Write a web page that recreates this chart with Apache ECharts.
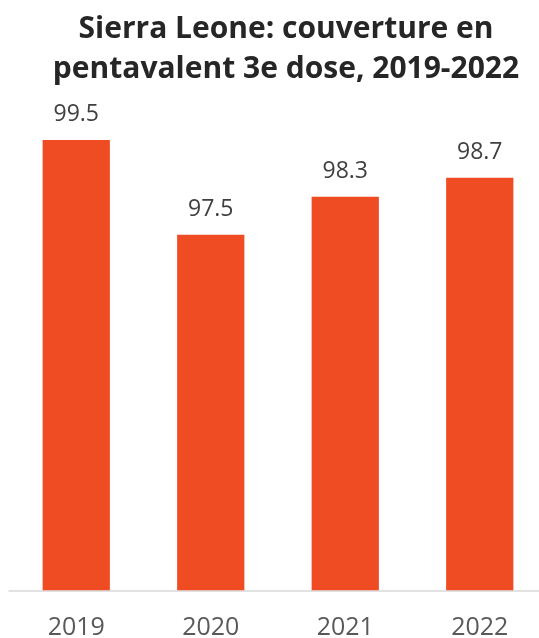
<!DOCTYPE html>
<html><head><meta charset="utf-8">
<script src="https://cdn.jsdelivr.net/npm/echarts@6/dist/echarts.min.js"></script>
<style>html,body{margin:0;padding:0;background:#fff}#c{width:539px;height:638px}</style>
</head><body><div id="c"></div>
<script>
const categories = ['2019', '2020', '2021', '2022'];
const coverage = [99.5, 97.5, 98.3, 98.7];
const titleText = 'Sierra Leone: couverture en\npentavalent 3e dose, 2019-2022';

const chart = echarts.init(document.getElementById('c'), null, {renderer: 'canvas'});
chart.setOption({
  animation: false,
  title: {
    text: titleText,
    left: 281,
    textAlign: 'center',
    top: 4,
    textStyle: {fontFamily: 'Open Sans', fontWeight: 'bold', fontSize: 30, lineHeight: 40, color: '#262626'}
  },
  grid: {left: 9, right: -8, top: 116.25, bottom: 47.75, containLabel: false, outerBoundsMode: 'none'},
  xAxis: {
    type: 'category',
    data: categories,
    axisLine: {show: true, lineStyle: {color: '#d9d9d9', width: 1.5}},
    axisTick: {show: false},
    axisLabel: {fontFamily: 'Open Sans', fontSize: 25, color: '#595959', margin: 25}
  },
  yAxis: {type: 'value', min: 90, max: 100, show: false, splitLine: {show: false}},
  series: [{
    type: 'bar',
    data: coverage,
    barWidth: '50%',
    itemStyle: {color: '#F04C23'},
    label: {show: true, position: 'top', distance: 14, fontFamily: 'Open Sans', fontSize: 23, color: '#404040', formatter: p => p.value.toFixed(1)}
  }]
});
</script></body></html>
